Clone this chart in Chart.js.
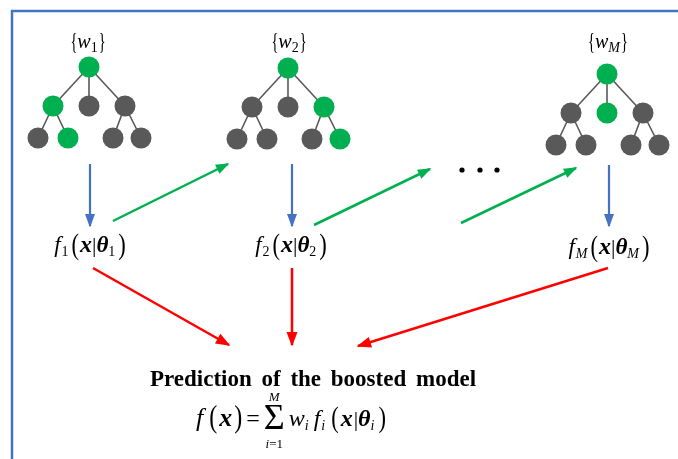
<!DOCTYPE html>
<html lang="en">
<head>
<meta charset="UTF-8">
<title>Prediction of the boosted model</title>
<style>
  html, body { margin: 0; padding: 0; background: #ffffff; }
  #wrap { width: 678px; height: 459px; }
</style>
</head>
<body>
<div id="wrap"><canvas id="diagram" width="678" height="459"></canvas></div>
<script src="https://cdn.jsdelivr.net/npm/chart.js"></script>
<script>
// --- data (diagram units, same size as the picture) ---
const treeRoots = [[89, 67], [288, 68], [607, 74]];
// one shared tree shape: root, three children, four grandchildren
const nodeDx = [0, -36, 0, 36, -51, -21, 24, 52];
const nodeDy = [0, 39, 39, 39, 71, 71, 71, 71];
const treeEdges = [[0, 1], [0, 2], [0, 3], [1, 4], [1, 5], [3, 6], [3, 7]];
const greenNodes = [[0, 1, 5], [0, 3, 7], [0, 2]];
const treeSubs = ['1', '2', 'M'];
const weightLabelPos = [[88, 48], [289, 48], [608, 48]];

const blueArrows = [[[90, 164], [90, 226]], [[292, 164], [292, 226]], [[609, 165], [609, 226]]];
const greenArrows = [[[113, 221], [228, 164]], [[314, 225], [430, 169]], [[461, 223], [576, 168]]];
const redArrows = [[[93, 268], [229, 345]], [[292, 268], [292, 345]], [[608, 268], [358, 346]]];
const dotsX = [462, 480, 497];
const dotsY = 170;
const modelLabelPos = [[90, 252], [291, 252], [609, 254]];
const frameLine = [[12, 459], [12, 11], [678, 11]];
const titleText = 'Prediction of the boosted model';
const titlePos = [313, 386];
const formulaPos = [291, 426];

const GREEN = '#00B050', GRAY = '#595959', BLUE = '#4472C4', RED = '#FF0000';
const SERIF = '"Liberation Serif", "DejaVu Serif", serif';

const pt = (p) => ({ x: p[0], y: p[1] });

// build datasets
const datasets = [];
treeRoots.forEach((r, t) => {
  const nodes = nodeDx.map((dx, k) => ({ x: r[0] + dx, y: r[1] + nodeDy[k] }));
  datasets.push({
    type: 'scatter', order: 0,
    data: nodes,
    pointRadius: 10.5, pointHoverRadius: 10.5, borderWidth: 0,
    pointBackgroundColor: nodes.map((n, k) => greenNodes[t].includes(k) ? GREEN : GRAY)
  });
  const edgeData = [];
  treeEdges.forEach(e => { edgeData.push(nodes[e[0]], nodes[e[1]], { x: null, y: null }); });
  datasets.push({
    type: 'scatter', order: 3, showLine: true, spanGaps: false,
    data: edgeData, borderColor: GRAY, borderWidth: 1.6, pointRadius: 0
  });
});

function arrowSet(list, color, width, head) {
  list.forEach(a => datasets.push({
    type: 'scatter', order: 2, showLine: true,
    data: a.map(pt), borderColor: color, borderWidth: width, pointRadius: 0,
    arrow: head
  }));
}
arrowSet(blueArrows, BLUE, 2.2, { len: 12, width: 10 });
arrowSet(greenArrows, GREEN, 2.5, { len: 12, width: 10 });
arrowSet(redArrows, RED, 2.5, { len: 13, width: 11 });

datasets.push({
  type: 'scatter', order: 1,
  data: dotsX.map(x => ({ x: x, y: dotsY })),
  pointRadius: 2.6, borderWidth: 0, pointBackgroundColor: '#000000'
});
datasets.push({
  type: 'scatter', order: 4, showLine: true,
  data: frameLine.map(pt), borderColor: BLUE, borderWidth: 2.5, pointRadius: 0
});

// draws a row of text pieces centred on x (sx = horizontal squeeze, ws = word spacing)
function drawRuns(ctx, cx, y, parts) {
  ctx.save();
  ctx.textBaseline = 'alphabetic';
  ctx.textAlign = 'left';
  ctx.fillStyle = '#000';
  let total = 0;
  parts.forEach(p => {
    ctx.font = p.f;
    ctx.wordSpacing = p.ws || '0px';
    p.w = ctx.measureText(p.t).width * (p.sx || 1);
    total += p.w + (p.dx || 0);
  });
  let x = cx - total / 2;
  parts.forEach(p => {
    x += (p.dx || 0);
    ctx.font = p.f;
    ctx.wordSpacing = p.ws || '0px';
    ctx.save();
    ctx.translate(x, y + (p.dy || 0));
    ctx.scale(p.sx || 1, 1);
    ctx.fillText(p.t, 0, 0);
    ctx.restore();
    if (p.over) drawRuns(ctx, x + p.w / 2, y + p.over.dy, p.over.parts);
    if (p.under) drawRuns(ctx, x + p.w / 2, y + p.under.dy, p.under.parts);
    x += p.w;
  });
  ctx.restore();
}

const subFont = (s) => (/[A-Za-z]/.test(s) ? 'italic ' : '') + '14px ' + SERIF;

function modelParts(s) {
  return [
    { t: 'f', f: 'italic 23px ' + SERIF },
    { t: s, f: subFont(s), dy: 4, dx: 1 },
    { t: '(', f: '30px ' + SERIF, sx: 0.75, dx: 3, dy: 2 },
    { t: 'x', f: 'bold italic 24px ' + SERIF, dx: 1 },
    { t: '|', f: '22px ' + SERIF },
    { t: 'θ', f: 'bold italic 23px ' + SERIF },
    { t: s, f: subFont(s), dy: 4 },
    { t: ')', f: '30px ' + SERIF, sx: 0.75, dx: 3, dy: 2 }
  ];
}

function weightParts(s) {
  return [
    { t: '{', f: '24px ' + SERIF, sx: 0.6, dy: 1 },
    { t: 'w', f: 'italic 20px ' + SERIF },
    { t: s, f: subFont(s), dy: 4 },
    { t: '}', f: '24px ' + SERIF, sx: 0.6, dx: 1, dy: 1 }
  ];
}

const formulaParts = [
  { t: 'f', f: 'italic 26px ' + SERIF },
  { t: '(', f: '32px ' + SERIF, sx: 0.75, dx: 6, dy: 1 },
  { t: 'x', f: 'bold italic 26px ' + SERIF, dx: 2 },
  { t: ')', f: '32px ' + SERIF, sx: 0.75, dx: 2, dy: 1 },
  { t: '=', f: '24px ' + SERIF, dx: 4 },
  { t: 'Σ', f: '36px ' + SERIF, dx: 4, dy: 3,
    over: { dy: -25, parts: [{ t: 'M', f: 'italic 13px ' + SERIF }] },
    under: { dy: 22, parts: [{ t: 'i', f: 'italic 13px ' + SERIF }, { t: '=1', f: '13px ' + SERIF }] } },
  { t: 'w', f: 'italic 24px ' + SERIF, dx: 4 },
  { t: 'i', f: 'italic 14px ' + SERIF, dy: 4 },
  { t: 'f', f: 'italic 24px ' + SERIF, dx: 5 },
  { t: 'i', f: 'italic 14px ' + SERIF, dy: 4, dx: 1 },
  { t: '(', f: '30px ' + SERIF, sx: 0.75, dx: 6, dy: 1 },
  { t: 'x', f: 'bold italic 24px ' + SERIF, dx: 2 },
  { t: '|', f: '22px ' + SERIF, dx: 1 },
  { t: 'θ', f: 'bold italic 24px ' + SERIF },
  { t: 'i', f: 'italic 14px ' + SERIF, dy: 4 },
  { t: ')', f: '30px ' + SERIF, sx: 0.75, dx: 4, dy: 1 }
];

const arrowHeads = {
  id: 'arrowHeads',
  afterDatasetsDraw(chart) {
    const ctx = chart.ctx;
    chart.data.datasets.forEach((ds, i) => {
      if (!ds.arrow) return;
      const pts = chart.getDatasetMeta(i).data;
      const a = pts[pts.length - 2], b = pts[pts.length - 1];
      const ang = Math.atan2(b.y - a.y, b.x - a.x);
      const c = Math.cos(ang), s = Math.sin(ang);
      const L = ds.arrow.len, h = ds.arrow.width / 2;
      ctx.save();
      ctx.fillStyle = ds.borderColor;
      ctx.beginPath();
      ctx.moveTo(b.x + c * 1.5, b.y + s * 1.5);
      ctx.lineTo(b.x - L * c + h * s, b.y - L * s - h * c);
      ctx.lineTo(b.x - L * c - h * s, b.y - L * s + h * c);
      ctx.closePath();
      ctx.fill();
      ctx.restore();
    });
  }
};

const labels = {
  id: 'labels',
  afterDraw(chart) {
    const ctx = chart.ctx, X = chart.scales.x, Y = chart.scales.y;
    const px = (p) => [X.getPixelForValue(p[0]), Y.getPixelForValue(p[1])];
    weightLabelPos.forEach((p, i) => { const q = px(p); drawRuns(ctx, q[0], q[1], weightParts(treeSubs[i])); });
    modelLabelPos.forEach((p, i) => { const q = px(p); drawRuns(ctx, q[0], q[1], modelParts(treeSubs[i])); });
    const tp = px(titlePos);
    drawRuns(ctx, tp[0], tp[1], [{ t: titleText, f: 'bold 23px ' + SERIF, ws: '4px' }]);
    const fp = px(formulaPos);
    drawRuns(ctx, fp[0], fp[1], formulaParts);
  }
};

new Chart(document.getElementById('diagram'), {
  type: 'scatter',
  data: { datasets: datasets },
  options: {
    responsive: false,
    animation: false,
    events: [],
    layout: { padding: 0, autoPadding: false },
    scales: {
      x: { type: 'linear', min: 0, max: 678, display: false },
      y: { type: 'linear', min: 0, max: 459, reverse: true, display: false }
    },
    plugins: { legend: { display: false }, tooltip: { enabled: false } }
  },
  plugins: [arrowHeads, labels]
});
</script>
</body>
</html>
